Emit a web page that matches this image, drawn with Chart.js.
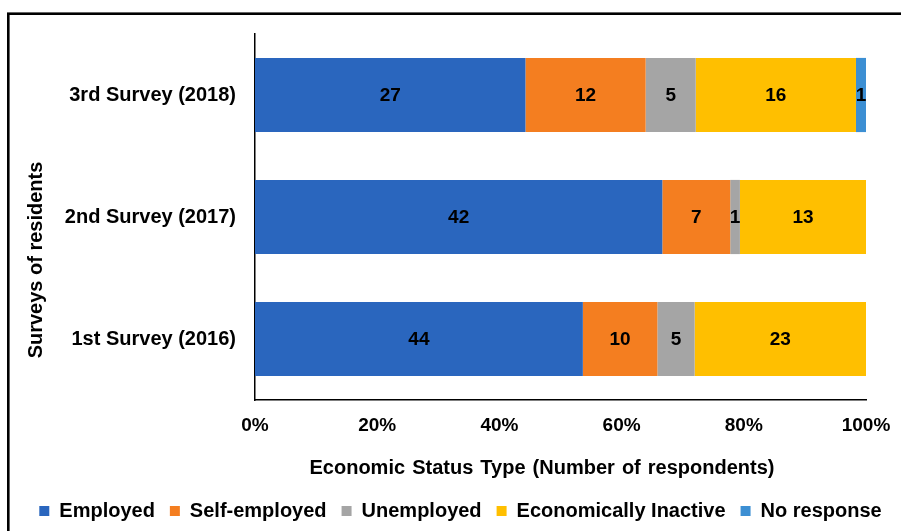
<!DOCTYPE html>
<html>
<head>
<meta charset="utf-8">
<script src="https://cdn.jsdelivr.net/npm/chart.js@4"></script>
<style>
  html, body { margin: 0; padding: 0; background: #fff; }
  #wrap { width: 901px; height: 531px; position: relative; }
</style>
</head>
<body>
<div id="wrap"><canvas id="statusChart" width="901" height="531"></canvas></div>
<script>
const surveys = ['3rd Survey (2018)', '2nd Survey (2017)', '1st Survey (2016)'];
const statusTypes = ['Employed', 'Self-employed', 'Unemployed', 'Economically Inactive', 'No response'];

// respondents per survey, same order as surveys
const employed = [27, 42, 44];
const selfEmployed = [12, 7, 10];
const unemployed = [5, 1, 5];
const inactive = [16, 13, 23];
const noResponse = [1, 0, 0];

const xTicks = [0, 20, 40, 60, 80, 100];

const colors = ['#2A66BE', '#F47E20', '#A5A5A5', '#FFBF00', '#3C8FD3'];
const FONT = "'Liberation Sans', Arial, sans-serif";

const counts = [employed, selfEmployed, unemployed, inactive, noResponse];
const totals = surveys.map((s, i) => counts.reduce((sum, arr) => sum + arr[i], 0));

const datasets = statusTypes.map((name, k) => ({
    label: name,
    data: counts[k].map((v, i) => v / totals[i] * 100),
    counts: counts[k],
    backgroundColor: colors[k],
    borderWidth: 0,
    categoryPercentage: 0.8,
    barPercentage: 0.76
}));

// counts written in the middle of each segment
const segmentLabels = {
    id: 'segmentLabels',
    afterDatasetsDraw(chart) {
        const ctx = chart.ctx;
        ctx.save();
        ctx.font = 'bold 19px ' + FONT;
        ctx.fillStyle = '#000';
        ctx.textAlign = 'center';
        ctx.textBaseline = 'middle';
        chart.data.datasets.forEach((ds, di) => {
            chart.getDatasetMeta(di).data.forEach((bar, i) => {
                const n = ds.counts[i];
                if (!n) return;
                ctx.fillText(String(n), (bar.x + bar.base) / 2, bar.y + 1);
            });
        });
        ctx.restore();
    }
};

// frame and the two axis titles
const chartDecor = {
    id: 'chartDecor',
    afterDraw(chart) {
        const ctx = chart.ctx;
        const area = chart.chartArea;
        ctx.save();
        ctx.strokeStyle = '#000';
        ctx.lineWidth = 2.6;
        ctx.strokeRect(8.3, 13.7, 1000, 1000);

        ctx.fillStyle = '#000';
        ctx.font = 'bold 20px ' + FONT;
        ctx.textAlign = 'center';
        ctx.textBaseline = 'middle';

        const xTitle = 'Economic Status Type (Number of respondents)';
        if ('wordSpacing' in ctx) {
            const natural = ctx.measureText(xTitle).width;
            ctx.wordSpacing = Math.max(0, (465 - natural) / 5) + 'px';
        }
        ctx.fillText(xTitle, area.left + 287, area.bottom + 68);
        if ('wordSpacing' in ctx) ctx.wordSpacing = '0px';

        ctx.translate(36, area.top + 226);
        ctx.rotate(-Math.PI / 2);
        ctx.fillText('Surveys of residents', 0, 0);
        ctx.restore();
    }
};

new Chart(document.getElementById('statusChart'), {
    type: 'bar',
    data: { labels: surveys, datasets: datasets },
    options: {
        indexAxis: 'y',
        responsive: false,
        animation: false,
        layout: { padding: { top: 34, right: 0, left: 20, bottom: 0 } },
        scales: {
            x: {
                stacked: true,
                min: 0,
                max: 100,
                afterBuildTicks(scale) {
                    scale.ticks = xTicks.map(v => ({ value: v }));
                },
                afterFit(scale) {
                    scale.height = 86;
                    scale.paddingLeft = 0;
                    scale.paddingRight = 35;
                },
                grid: { display: false, drawTicks: false },
                border: { display: true, color: '#000', width: 1.5 },
                ticks: {
                    padding: 14,
                    color: '#000',
                    font: { family: FONT, size: 19, weight: 'bold' },
                    callback: v => v + '%'
                }
            },
            y: {
                stacked: true,
                afterFit(scale) { scale.width = 235; },
                grid: { display: false, drawTicks: false },
                border: { display: true, color: '#000', width: 1.5 },
                ticks: {
                    padding: 19,
                    color: '#000',
                    font: { family: FONT, size: 20, weight: 'bold' }
                }
            }
        },
        plugins: {
            legend: {
                position: 'bottom',
                labels: {
                    boxWidth: 10,
                    boxHeight: 10,
                    padding: 15,
                    color: '#000',
                    font: { family: FONT, size: 20, weight: 'bold' }
                }
            },
            tooltip: { enabled: false }
        }
    },
    plugins: [segmentLabels, chartDecor]
});
</script>
</body>
</html>
